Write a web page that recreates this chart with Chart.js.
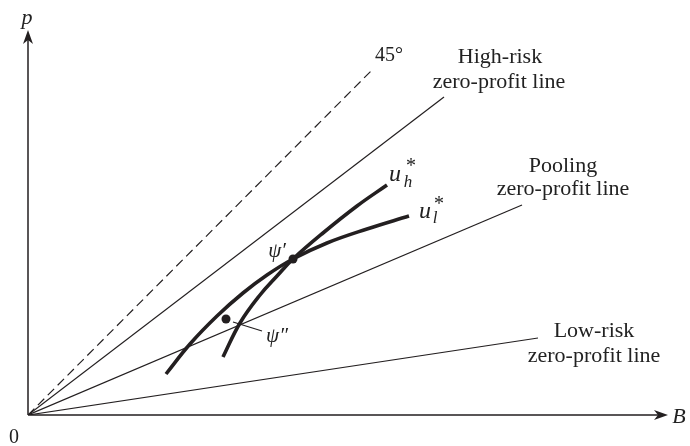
<!DOCTYPE html>
<html>
<head>
<meta charset="utf-8">
<script src="https://cdn.jsdelivr.net/npm/chart.js@4"></script>
<style>
  html,body{margin:0;padding:0;background:#fff;}
  #wrap{width:690px;height:446px;position:relative;}
</style>
</head>
<body>
<div id="wrap"><canvas id="chart"></canvas></div>
<script>
// Insurance diagram: zero-profit lines and indifference curves
const INK = '#231f20';
const SERIF = '"Liberation Serif", "Times New Roman", Tinos, serif';

// axis ranges (B horizontal, p vertical)
const xMax = 640;
const yMax = 385;

// rays from origin: [B, p] end points
const line45 = [[0,0],[345,346]];
const highRisk = [[0,0],[416,318]];
const pooling = [[0,0],[494,210]];
const lowRisk = [[0,0],[510,77]];

// indifference curves
const uhB = [195,212,232,249,265,295,329,359];
const uhP = [58,92,120,139,156,182,209,230];
const ulB = [138,162,189,215,239,265,299,339,381];
const ulP = [41,71,99,122,140,156,172,186,199];

// contracts
const psi1 = [265,156];
const psi2 = [198,96];
const psi2Leader = [[205,93],[234,84]];

// text labels, positioned in data units
const labels = [
  {t:'p', x:-1, y:397, f:'italic 22px ' + SERIF},
  {t:'B', x:651, y:-2, f:'italic 22px ' + SERIF},
  {t:'0', x:-14, y:-23, f:'20px ' + SERIF},
  {t:'45°', x:361, y:359, f:'20px ' + SERIF},
  {t:'High-risk', x:472, y:358, f:'22px ' + SERIF},
  {t:'zero-profit line', x:471, y:333, f:'22px ' + SERIF},
  {t:'Pooling', x:535, y:249, f:'22px ' + SERIF},
  {t:'zero-profit line', x:535, y:226, f:'22px ' + SERIF},
  {t:'Low-risk', x:566, y:84, f:'22px ' + SERIF},
  {t:'zero-profit line', x:566, y:59, f:'22px ' + SERIF},
  {t:'u', x:367, y:240, f:'italic 24px ' + SERIF},
  {t:'h', x:380, y:232, f:'italic 17px ' + SERIF},
  {t:'*', x:383, y:248, f:'20px ' + SERIF},
  {t:'u', x:397, y:203, f:'italic 24px ' + SERIF},
  {t:'l', x:407, y:196, f:'italic 17px ' + SERIF},
  {t:'*', x:411, y:210, f:'20px ' + SERIF},
  {t:'ψ′', x:249, y:164, f:'italic 21px ' + SERIF},
  {t:'ψ″', x:249, y:79, f:'italic 21px ' + SERIF},
];

const pts = arr => arr.map(([x,y]) => ({x, y}));
const zip = (xs, ys) => xs.map((x,i) => ({x, y:ys[i]}));

function ray(data, opts){
  return Object.assign({ data: pts(data), showLine:true, borderColor:INK, borderWidth:1.2,
    pointRadius:0, fill:false, tension:0 }, opts||{});
}

function curve(xs, ys){
  return { data: zip(xs, ys), showLine:true, borderColor:INK, borderWidth:3.6, pointRadius:0,
    tension:0.4, borderCapStyle:'butt', fill:false };
}

const axesPlugin = {
  id:'axes',
  afterDatasetsDraw(chart){
    const {ctx, scales:{x, y}} = chart;
    const x0 = x.getPixelForValue(0), y0 = y.getPixelForValue(0);
    const xe = x.getPixelForValue(xMax), ye = y.getPixelForValue(yMax);
    ctx.save();
    ctx.strokeStyle = INK; ctx.fillStyle = INK; ctx.lineWidth = 1.5;
    ctx.beginPath(); ctx.moveTo(x0, y0); ctx.lineTo(xe - 6, y0);
    ctx.moveTo(x0, y0); ctx.lineTo(x0, ye + 6); ctx.stroke();
    // arrowheads
    ctx.beginPath();
    ctx.moveTo(xe, y0); ctx.lineTo(xe - 14, y0 - 5); ctx.lineTo(xe - 10, y0); ctx.lineTo(xe - 14, y0 + 5);
    ctx.closePath(); ctx.fill();
    ctx.beginPath();
    ctx.moveTo(x0, ye); ctx.lineTo(x0 - 5, ye + 14); ctx.lineTo(x0, ye + 10); ctx.lineTo(x0 + 5, ye + 14);
    ctx.closePath(); ctx.fill();
    // labels
    ctx.fillStyle = '#222';
    ctx.textAlign = 'center'; ctx.textBaseline = 'middle';
    labels.forEach(l => {
      ctx.font = l.f;
      ctx.fillText(l.t, x.getPixelForValue(l.x), y.getPixelForValue(l.y));
    });
    ctx.restore();
  }
};

new Chart(document.getElementById('chart'), {
  type:'scatter',
  data:{
    datasets:[
      ray(line45, {borderDash:[9,5]}),
      ray(highRisk),
      ray(pooling),
      ray(lowRisk),
      ray(psi2Leader, {borderWidth:1.3}),
      curve(uhB, uhP),
      curve(ulB, ulP),
      { data: pts([psi1, psi2]), pointRadius:4.5, pointBackgroundColor:INK, pointBorderWidth:0 },
    ]
  },
  options:{
    responsive:true, maintainAspectRatio:false, animation:false,
    layout:{ padding:{ left:28, right:22, top:30, bottom:31 } },
    plugins:{ legend:{display:false}, tooltip:{enabled:false} },
    scales:{
      x:{ type:'linear', min:0, max:xMax, display:false },
      y:{ type:'linear', min:0, max:yMax, display:false }
    }
  },
  plugins:[axesPlugin]
});
</script>
</body>
</html>
